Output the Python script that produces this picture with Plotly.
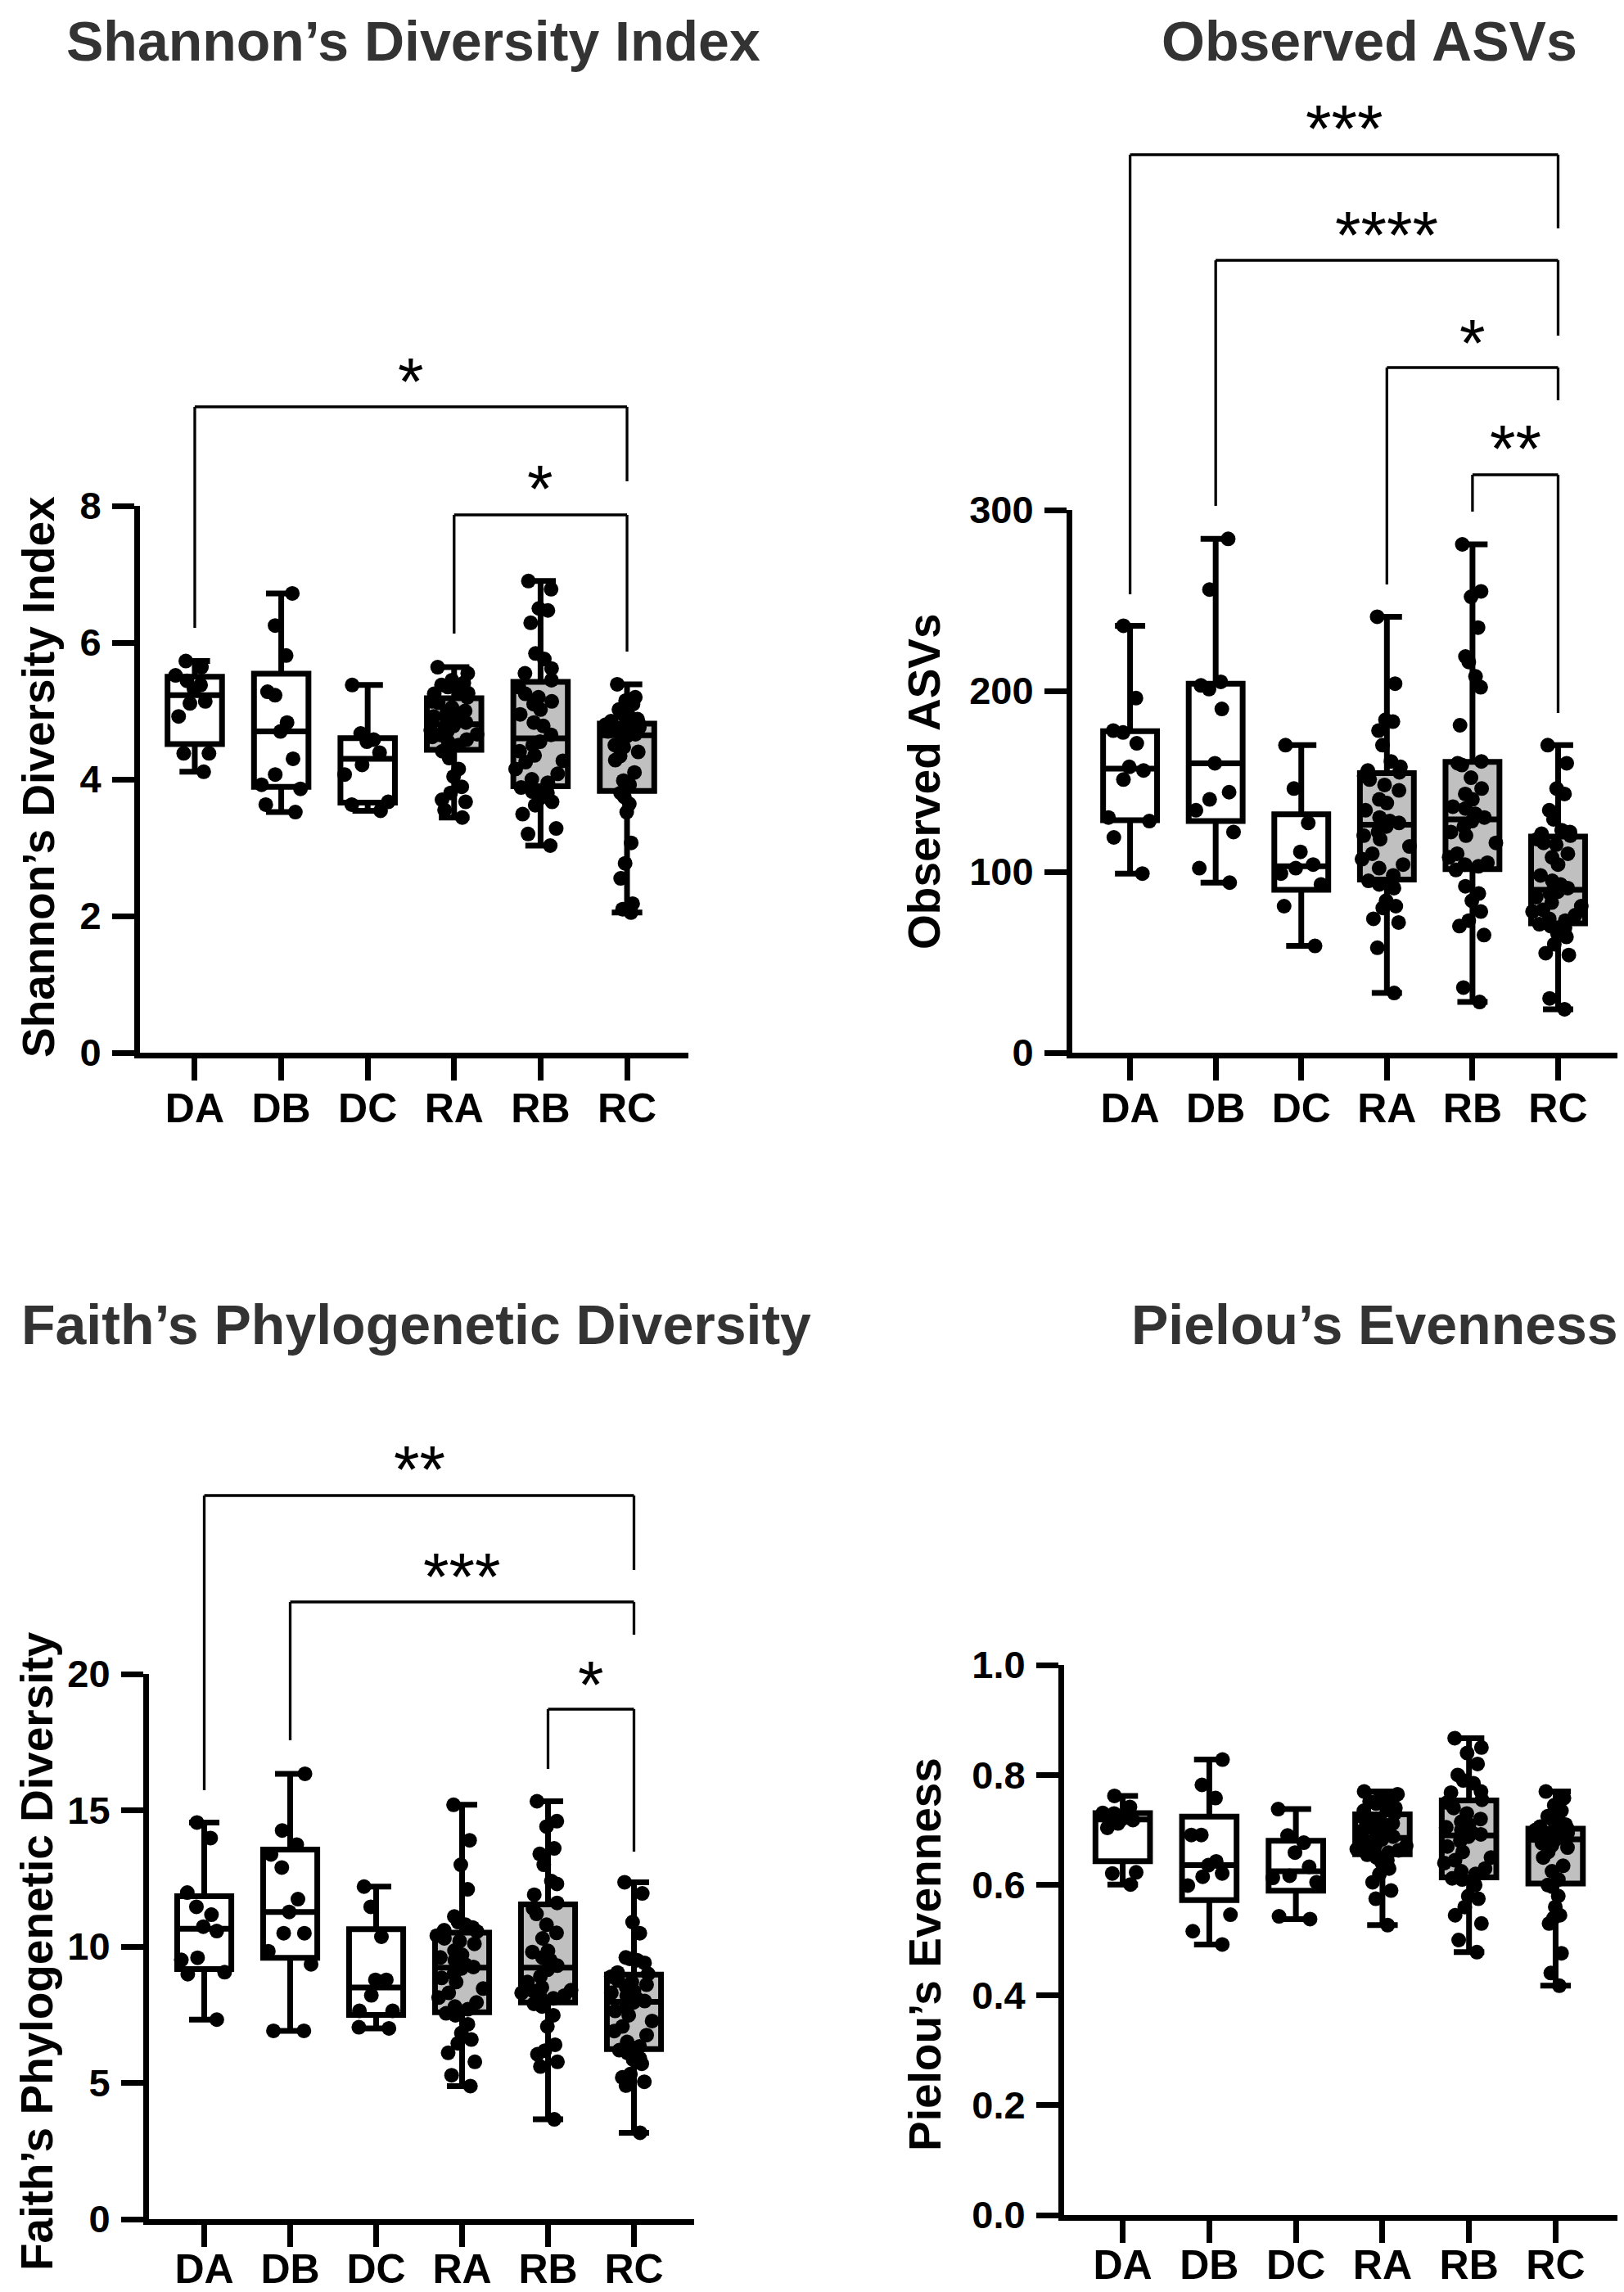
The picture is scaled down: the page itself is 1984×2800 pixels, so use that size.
import numpy as np
import plotly.graph_objects as go

W, H = 1984, 2800
OFF = 8  # the page body shifts the figure by this many pixels
GROUPS = ["DA", "DB", "DC", "RA", "RB", "RC"]

# -- Shannon's Diversity Index ------------------------------------------------
shannon_da = [5.73, 5.64, 5.52, 5.44, 5.38, 5.32, 5.14, 5.11, 4.92, 4.38, 4.38, 4.11]
shannon_db = [6.72, 6.25, 5.81, 5.28, 5.23, 4.83, 4.70, 4.30, 4.07, 3.92, 3.86, 3.63, 3.52]
shannon_dc = [5.38, 4.67, 4.58, 4.55, 4.39, 4.21, 4.07, 3.67, 3.63, 3.54]
shannon_ra = [5.64, 5.55, 5.45, 5.41, 5.38, 5.35, 5.30, 5.26, 5.25, 5.20,
              5.14, 5.12, 5.05, 5.00, 4.98, 4.95, 4.92, 4.88, 4.85, 4.83,
              4.78, 4.75, 4.72, 4.70, 4.66, 4.65, 4.62, 4.58, 4.55, 4.50,
              4.41, 4.31, 4.15, 4.04, 3.89, 3.80, 3.70, 3.67, 3.55, 3.44]
shannon_rb = [6.90, 6.78, 6.50, 6.47, 6.29, 5.84, 5.76, 5.62, 5.55, 5.45,
              5.35, 5.25, 5.20, 5.14, 5.10, 5.02, 4.95, 4.83, 4.78, 4.65,
              4.55, 4.50, 4.41, 4.35, 4.27, 4.25, 4.15, 4.08, 4.00, 3.95,
              3.88, 3.82, 3.80, 3.72, 3.67, 3.62, 3.49, 3.28, 3.20, 3.03]
shannon_rc = [5.39, 5.20, 5.15, 5.10, 5.02, 4.95, 4.90, 4.88, 4.85, 4.82,
              4.80, 4.79, 4.77, 4.76, 4.74, 4.72, 4.70, 4.69, 4.68, 4.66,
              4.63, 4.56, 4.50, 4.47, 4.40, 4.34, 4.28, 4.10, 3.98, 3.92,
              3.80, 3.74, 3.64, 3.52, 3.07, 2.77, 2.55, 2.18, 2.10, 2.05]

# -- Observed ASVs -------------------------------------------------------------
asv_da = [236, 196, 178, 177, 171, 158, 156, 151, 130, 128, 119, 99]
asv_db = [284, 256, 205, 203, 201, 190, 160, 144, 140, 134, 122, 102, 94]
asv_dc = [170, 146, 127, 111, 104, 102, 99, 93, 81, 59]
asv_ra = [241, 204, 184, 183, 178, 170, 161, 158, 156, 155,
          153, 151, 148, 145, 140, 138, 134, 130, 128, 127,
          125, 122, 120, 118, 114, 110, 107, 104, 102, 98,
          95, 93, 91, 84, 81, 80, 74, 72, 58, 33]
asv_rb = [281, 255, 252, 235, 219, 216, 208, 202, 181, 161,
          160, 159, 152, 146, 143, 140, 136, 135, 132, 130,
          128, 125, 122, 120, 116, 110, 108, 105, 104, 103,
          101, 92, 88, 84, 78, 73, 70, 65, 36, 28]
asv_rc = [170, 160, 146, 143, 134, 129, 123, 122, 121, 120,
          118, 116, 115, 110, 108, 104, 98, 95, 93, 91,
          89, 88, 86, 83, 81, 79, 78, 76, 74, 73,
          71, 70, 69, 66, 64, 60, 55, 54, 30, 24]

# -- Faith's Phylogenetic Diversity --------------------------------------------
faith_da = [14.55, 13.98, 11.98, 11.46, 11.17, 10.73, 10.57, 9.59, 9.51, 9.06, 8.99, 7.32]
faith_db = [16.34, 14.26, 13.74, 13.38, 12.90, 11.74, 11.27, 10.49, 10.49, 9.83, 9.35, 6.91, 6.91]
faith_dc = [12.20, 11.46, 10.36, 8.78, 8.78, 8.21, 7.64, 7.64, 7.04, 7.00]
faith_ra = [15.2, 13.9, 13.0, 12.1, 11.1, 10.9, 10.8, 10.7, 10.6, 10.55,
            10.4, 10.3, 10.2, 10.1, 9.85, 9.7, 9.6, 9.5, 9.35, 9.25,
            9.2, 9.0, 8.85, 8.7, 8.46, 8.3, 8.13, 7.95, 7.8, 7.7,
            7.55, 7.48, 7.15, 6.83, 6.59, 6.45, 6.1, 5.77, 5.28, 4.88]
faith_rb = [15.33, 14.6, 14.4, 13.6, 13.4, 13.0, 12.4, 12.3, 11.9, 11.6,
            11.4, 11.2, 10.8, 10.5, 10.3, 9.84, 9.8, 9.6, 9.5, 9.3,
            9.15, 8.9, 8.7, 8.5, 8.4, 8.37, 8.3, 8.2, 8.15, 8.1,
            7.9, 7.8, 7.48, 7.07, 6.4, 6.18, 6.05, 5.77, 5.6, 3.66]
faith_rc = [12.36, 11.95, 10.9, 10.49, 9.6, 9.55, 9.5, 9.4, 9.05, 9.0,
            8.9, 8.75, 8.7, 8.6, 8.5, 8.37, 8.3, 8.2, 8.1, 8.0,
            7.95, 7.8, 7.64, 7.48, 7.27, 7.07, 6.9, 6.75, 6.5, 6.34,
            6.2, 6.1, 5.9, 5.85, 5.7, 5.32, 5.2, 5.04, 4.9, 3.17]

# -- Pielou's Evenness ---------------------------------------------------------
pielou_da = [0.762, 0.742, 0.731, 0.730, 0.725, 0.720, 0.718, 0.712, 0.704, 0.623, 0.621, 0.601]
pielou_db = [0.828, 0.782, 0.758, 0.691, 0.691, 0.643, 0.636, 0.621, 0.615, 0.599, 0.546, 0.516, 0.492]
pielou_dc = [0.738, 0.690, 0.677, 0.659, 0.633, 0.617, 0.613, 0.605, 0.543, 0.538]
pielou_ra = [0.770, 0.765, 0.760, 0.756, 0.752, 0.748, 0.744, 0.740, 0.735, 0.730,
             0.724, 0.720, 0.716, 0.712, 0.708, 0.704, 0.700, 0.696, 0.692, 0.688,
             0.683, 0.680, 0.677, 0.674, 0.671, 0.668, 0.665, 0.663, 0.661, 0.659,
             0.655, 0.650, 0.645, 0.640, 0.630, 0.620, 0.605, 0.590, 0.575, 0.527]
pielou_rb = [0.867, 0.850, 0.840, 0.820, 0.800, 0.790, 0.785, 0.770, 0.768, 0.755,
             0.750, 0.740, 0.730, 0.720, 0.715, 0.710, 0.705, 0.700, 0.695, 0.692,
             0.688, 0.680, 0.670, 0.660, 0.650, 0.645, 0.640, 0.630, 0.625, 0.620,
             0.612, 0.610, 0.600, 0.580, 0.575, 0.560, 0.545, 0.530, 0.500, 0.478]
pielou_rc = [0.770, 0.758, 0.745, 0.735, 0.725, 0.720, 0.715, 0.710, 0.706, 0.703,
             0.700, 0.699, 0.697, 0.695, 0.693, 0.691, 0.690, 0.688, 0.686, 0.684,
             0.682, 0.680, 0.676, 0.672, 0.668, 0.660, 0.650, 0.635, 0.625, 0.610,
             0.600, 0.597, 0.580, 0.560, 0.545, 0.540, 0.530, 0.476, 0.440, 0.417]

# -- significance brackets (left group, right group, label) --------------------
shannon_sig = [("DA", "RC", "*"), ("RA", "RC", "*")]
asv_sig = [("DA", "RC", "***"), ("DB", "RC", "****"), ("RA", "RC", "*"), ("RB", "RC", "**")]
faith_sig = [("DA", "RC", "**"), ("DB", "RC", "***"), ("RB", "RC", "*")]
pielou_sig = []

FONT = "Liberation Sans, Arial, Helvetica, sans-serif"
FILL = {"D": "white", "R": "#C0C0C0"}

# layout in page pixels: frame = (axis left, axis right, top tick, zero)
# sig_at = (bracket top, left leg end, right leg end, label centre)
PANELS = [
    dict(title="Shannon’s Diversity Index", ylab="Shannon’s Diversity Index",
         series=[shannon_da, shannon_db, shannon_dc, shannon_ra, shannon_rb, shannon_rc],
         sig=shannon_sig, yticks=[0, 2, 4, 6, 8], fmt="d",
         frame=(171, 841, 618, 1286), xrange=(-0.634, 5.71), standoff=-9,
         title_at=(505, 50), ylab_at=(47, 949),
         sig_at=[(497, 767, 588, 455), (629, 774, 796, 586)]),
    dict(title="Observed ASVs", ylab="Observed ASVs",
         series=[asv_da, asv_db, asv_dc, asv_ra, asv_rb, asv_rc],
         sig=asv_sig, yticks=[0, 100, 200, 300], fmt="d",
         frame=(1310, 1984, 623, 1286), xrange=(-0.675, 5.77), standoff=-9,
         title_at=(1673, 50), ylab_at=(1129, 955),
         sig_at=[(189, 726, 279, 146), (318, 618, 410, 276),
                 (449, 714, 489, 408), (580, 625, 871, 537)]),
    dict(title="Faith’s Phylogenetic Diversity", ylab="Faith’s Phylogenetic Diversity",
         series=[faith_da, faith_db, faith_dc, faith_ra, faith_rb, faith_rc],
         sig=faith_sig, yticks=[0, 5, 10, 15, 20], fmt="d",
         frame=(182, 848, 2045, 2711), xrange=(-0.643, 5.70), standoff=-16,
         title_at=(509, 1618), ylab_at=(45, 2384),
         sig_at=[(1827, 2187, 1918, 1784), (1957, 2126, 1997, 1915),
                 (2088, 2161, 2262, 2047)]),
    dict(title="Pielou’s Evenness", ylab="Pielou’s Evenness",
         series=[pielou_da, pielou_db, pielou_dc, pielou_ra, pielou_rb, pielou_rc],
         sig=pielou_sig, yticks=[0.0, 0.2, 0.4, 0.6, 0.8, 1.0], fmt=".1f",
         frame=(1300, 1984, 2034, 2706), xrange=(-0.677, 5.79), standoff=-16,
         title_at=(1679, 1618), ylab_at=(1130, 2388),
         sig_at=[]),
]


def px(p):
    return min(max((p - OFF) / W, 0.0), 1.0)


def py(p):
    return min(max(1 - (p - OFF) / H, 0.0), 1.0)


fig = go.Figure()

for i, p in enumerate(PANELS):
    sfx = "" if i == 0 else str(i + 1)
    xa, ya = "x" + sfx, "y" + sfx

    for g, vals in zip(GROUPS, p["series"]):
        v = np.asarray(vals, dtype=float)
        q1, med, q3 = np.percentile(v, [25, 50, 75], method="weibull")
        # box: quartiles, whiskers min to max
        fig.add_trace(go.Box(
            x=[g], q1=[q1], median=[med], q3=[q3],
            lowerfence=[v.min()], upperfence=[v.max()],
            orientation="v", boxpoints=False, width=0.63, whiskerwidth=0.56,
            fillcolor=FILL[g[0]], line=dict(color="black", width=7),
            xaxis=xa, yaxis=ya, showlegend=False, hoverinfo="skip",
        ))
        # all individual points, jittered
        fig.add_trace(go.Box(
            x=[g] * len(v), y=v, boxpoints="all", jitter=1.0, pointpos=0,
            width=0.63, fillcolor="rgba(0,0,0,0)",
            line=dict(color="rgba(0,0,0,0)", width=0),
            marker=dict(color="black", size=18, line=dict(width=0)),
            xaxis=xa, yaxis=ya, showlegend=False, hoverinfo="skip",
        ))

    x0, x1, ytop, ybot = p["frame"]
    common = dict(showline=True, linecolor="black", linewidth=7,
                  ticks="outside", ticklen=27, tickwidth=7, tickcolor="black",
                  showgrid=False, zeroline=False, automargin=False)
    fig.update_layout(**{
        "xaxis" + sfx: dict(domain=[px(x0), px(x1)], anchor=ya, type="category",
                            categoryorder="array", categoryarray=GROUPS,
                            range=list(p["xrange"]),
                            ticklabelstandoff=p["standoff"],
                            tickfont=dict(family=FONT, size=50, color="black",
                                          weight="bold"),
                            **common),
        "yaxis" + sfx: dict(domain=[py(ybot), py(ytop)], anchor=xa,
                            range=[0, p["yticks"][-1]], tickvals=p["yticks"],
                            tickformat=p["fmt"], ticklabelstandoff=4,
                            tickfont=dict(family=FONT, size=47, color="black",
                                          weight="bold"),
                            **common),
    })

    # significance brackets
    for (ga, gb, label), (top, lleg, rleg, ty) in zip(p["sig"], p["sig_at"]):
        ia, ib = GROUPS.index(ga), GROUPS.index(gb)
        ln = dict(color="black", width=3.3)
        fig.add_shape(type="line", xref=xa, yref="paper", x0=ia, x1=ia,
                      y0=py(lleg), y1=py(top), line=ln)
        fig.add_shape(type="line", xref=xa, yref="paper", x0=ia, x1=ib,
                      y0=py(top), y1=py(top), line=ln)
        fig.add_shape(type="line", xref=xa, yref="paper", x0=ib, x1=ib,
                      y0=py(top), y1=py(rleg), line=ln)
        fig.add_annotation(xref=xa, yref="paper", x=(ia + ib) / 2, y=py(ty + 11),
                           text=label, showarrow=False, xanchor="center",
                           yanchor="middle",
                           font=dict(family=FONT, size=81, color="black"))

    # panel title and y-axis label
    tx, ty = p["title_at"]
    fig.add_annotation(xref="paper", yref="paper", x=px(tx), y=py(ty),
                       text=p["title"], showarrow=False, xanchor="center",
                       yanchor="middle",
                       font=dict(family=FONT, size=68, color="#333333",
                                 weight="bold"))
    lx, ly = p["ylab_at"]
    fig.add_annotation(xref="paper", yref="paper", x=px(lx), y=py(ly),
                       text=p["ylab"], showarrow=False, textangle=-90,
                       xanchor="center", yanchor="middle",
                       font=dict(family=FONT, size=55, color="black",
                                 weight="bold"))

fig.update_layout(
    width=W, height=H,
    margin=dict(l=0, r=0, t=0, b=0, pad=0, autoexpand=False),
    paper_bgcolor="white", plot_bgcolor="white",
    boxmode="overlay",
    font=dict(family=FONT, color="black"),
)

fig.write_html("out.html")
